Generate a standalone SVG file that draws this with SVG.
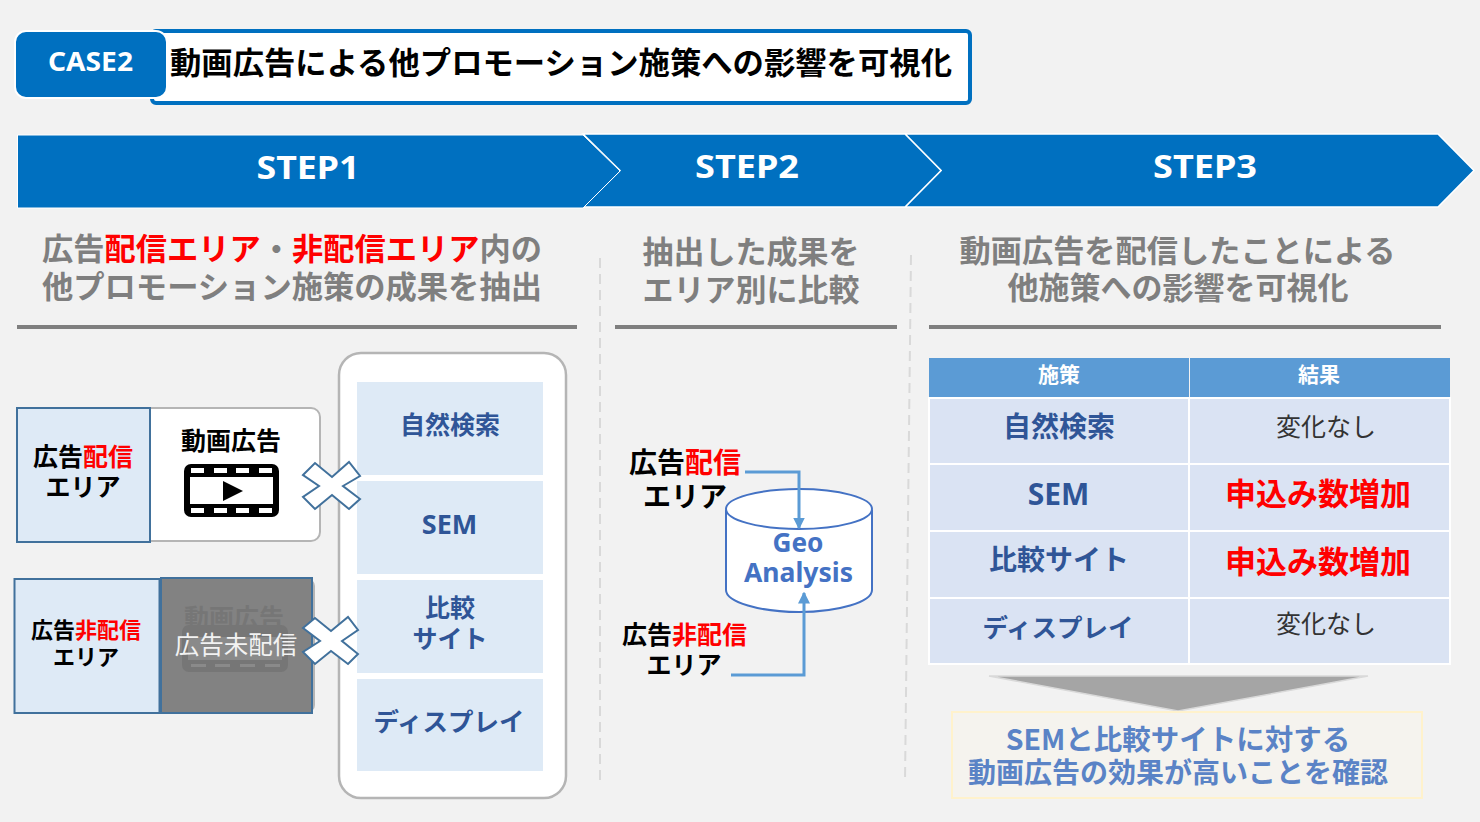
<svg xmlns="http://www.w3.org/2000/svg" width="1480" height="822" viewBox="0 0 1480 822">
<style>
text{font-family:"Noto Sans CJK JP","Noto Sans",sans-serif;font-weight:700;text-anchor:middle}
.lat{font-family:"Noto Sans",sans-serif}
.r{fill:#ff0000}
.k{fill:#000}
.g{fill:#7f7f7f;font-size:31px}
.b{fill:#2f5597}
.cell{fill:#deeaf6}
.tc{fill:#dae3f3;stroke:#fff;stroke-width:2}
.rule{fill:#7f7f7f}
.dash{stroke:#d9d9d9;stroke-width:2;stroke-dasharray:10 6;fill:none}
.x{fill:#fff;stroke:#41719c;stroke-width:2}
.conn{fill:none;stroke:#5b9bd5;stroke-width:3}
.st{font-size:33px;fill:#fff}
</style>
<defs>
<marker id="ah" markerWidth="4" markerHeight="4" refX="3.500" refY="2" orient="auto" markerUnits="strokeWidth"><path d="M0 0L4 2L0 4z" fill="#5b9bd5"/></marker>
<g id="film">
<rect x="0" y="0" width="95" height="53" rx="7" fill="#000"/>
<rect x="6" y="13" width="83" height="27" fill="#fff"/>
<g fill="#fff"><rect x="7" y="4" width="13" height="5"/><rect x="30" y="4" width="13" height="5"/><rect x="52" y="4" width="13" height="5"/><rect x="75" y="4" width="13" height="5"/><rect x="7" y="44" width="13" height="5"/><rect x="30" y="44" width="13" height="5"/><rect x="52" y="44" width="13" height="5"/><rect x="75" y="44" width="13" height="5"/></g>
<path d="M39 17L59 27L39 37z" fill="#000"/>
</g>
</defs>
<rect width="1480" height="822" fill="#f2f2f2"/>

<g id="title">
<rect x="152" y="31" width="818" height="72" rx="4" fill="#fff" stroke="#0070c0" stroke-width="4"/>
<text x="561" y="74" font-size="31" class="k" textLength="782" lengthAdjust="spacingAndGlyphs">動画広告による他プロモーション施策への影響を可視化</text>
</g>
<g id="case">
<rect x="15" y="31" width="152" height="67" rx="11" fill="#0070c0" stroke="#fff" stroke-width="2"/>
<text class="lat" x="90.500" y="71" font-size="27" fill="#fff" textLength="85" lengthAdjust="spacingAndGlyphs">CASE2</text>
</g>

<g id="step3">
<path d="M905 134H1438L1474 170.500L1438 207H905L941 170.500z" fill="#0070c0" stroke="#fff" stroke-width="1.500"/>
<text class="lat st" x="1205" y="178" textLength="104" lengthAdjust="spacingAndGlyphs">STEP3</text>
</g>
<g id="step2">
<path d="M583 134H905L941 170.500L905 207H583L620 170.500z" fill="#0070c0" stroke="#fff" stroke-width="1.500"/>
<text class="lat st" x="747" y="178" textLength="104" lengthAdjust="spacingAndGlyphs">STEP2</text>
</g>
<g id="step1">
<path d="M17.500 135H583L620 171L583 208H17.500z" fill="#0070c0" stroke="#fff" stroke-width="1"/>
<text class="lat st" x="308" y="179" textLength="103" lengthAdjust="spacingAndGlyphs">STEP1</text>
</g>

<g id="heading1">
<text x="292" y="260" class="g" textLength="500" lengthAdjust="spacingAndGlyphs">広告<tspan class="r">配信エリア</tspan>・<tspan class="r">非配信エリア</tspan>内の</text>
<text x="292" y="298" class="g" textLength="500" lengthAdjust="spacingAndGlyphs">他プロモーション施策の成果を抽出</text>
<rect class="rule" x="17" y="325" width="560" height="4"/>
</g>
<g id="heading2">
<text x="751" y="263" class="g">抽出した成果を</text>
<text x="751" y="301" class="g">エリア別に比較</text>
<rect class="rule" x="615" y="325" width="282" height="4"/>
</g>
<g id="heading3">
<text x="1177.500" y="262" class="g" textLength="436" lengthAdjust="spacingAndGlyphs">動画広告を配信したことによる</text>
<text x="1178" y="299" class="g">他施策への影響を可視化</text>
<rect class="rule" x="929" y="325" width="512" height="4"/>
</g>
<g id="dividers">
<path class="dash" d="M600 258V780"/>
<path class="dash" d="M911 255L905 782"/>
</g>

<g id="channels">
<rect x="339" y="353" width="227" height="445" rx="22" fill="#fff" stroke="#b5b5b5" stroke-width="2.500"/>
<rect class="cell" x="357" y="382" width="186" height="93"/>
<rect class="cell" x="357" y="481" width="186" height="93"/>
<rect class="cell" x="357" y="580" width="186" height="93"/>
<rect class="cell" x="357" y="679" width="186" height="92"/>
<text class="b" x="450" y="434" font-size="25">自然検索</text>
<text class="b lat" x="449.500" y="534" font-size="27">SEM</text>
<text class="b" x="450" y="617" font-size="25">比較</text>
<text class="b" x="450" y="648" font-size="25">サイト</text>
<text class="b" x="449" y="731" font-size="25.500">ディスプレイ</text>
</g>

<g id="area-delivered">
<rect x="140" y="408" width="180" height="133" rx="9" fill="#fff" stroke="#b5b5b5" stroke-width="2"/>
<rect x="17" y="408" width="133" height="134" class="cell" stroke="#41719c" stroke-width="2"/>
<text x="83" y="466" font-size="25" class="k">広告<tspan class="r">配信</tspan></text>
<text x="83" y="496" font-size="25" class="k">エリア</text>
<text x="231" y="450" font-size="25" class="k">動画広告</text>
<use href="#film" x="184" y="464"/>
</g>

<g id="area-undelivered">
<rect x="150" y="580" width="164" height="131" rx="6" fill="#fff" stroke="#b5b5b5" stroke-width="2"/>
<rect x="14.500" y="579" width="145" height="134" class="cell" stroke="#41719c" stroke-width="2"/>
<text x="86" y="638" font-size="22" class="k">広告<tspan class="r">非配信</tspan></text>
<text x="86" y="665" font-size="22" class="k">エリア</text>
<rect x="161" y="578" width="151" height="135" fill="#828282" stroke="#41719c" stroke-width="2"/>
<text x="234" y="627" font-size="25" fill="#767676">動画広告</text>
<rect x="182" y="625" width="106" height="47" rx="7" fill="#767676"/>
<rect x="188" y="637" width="94" height="23" fill="#8a8a8a"/>
<g fill="#8a8a8a"><rect x="191" y="664" width="15" height="3"/><rect x="215" y="664" width="15" height="3"/><rect x="240" y="664" width="15" height="3"/><rect x="265" y="664" width="15" height="3"/></g>
<text x="236" y="654" font-size="24.500" fill="#f2f2f2" style="font-weight:400">広告未配信</text>
</g>

<g id="cross1"><path class="x" d="M303 475L315 463L332 477L349 462L360 476L343 486L360 499L349 509L332 495L315 509L303 497L319 486z"/></g>
<g id="cross2"><path class="x" d="M303 628L315 618L331 631L348 617L358 630L342 641L358 654L348 664L331 651L315 664L303 652L320 641z"/></g>

<g id="geo">
<path d="M726 511V590C726 602 760 612 799 612S872 602 872 590V511z" fill="#fff" stroke="#4472c4" stroke-width="2"/>
<ellipse cx="799" cy="509" rx="73" ry="20" fill="#fff" stroke="#4472c4" stroke-width="2"/>
<text class="lat" x="798" y="552" font-size="26" fill="#4472c4" textLength="51" lengthAdjust="spacingAndGlyphs">Geo</text>
<text class="lat" x="798.500" y="582" font-size="26" fill="#4472c4" textLength="109" lengthAdjust="spacingAndGlyphs">Analysis</text>
</g>
<g id="src1">
<text x="685" y="473" font-size="28" class="k">広告<tspan class="r">配信</tspan></text>
<text x="685" y="507" font-size="28" class="k">エリア</text>
</g>
<g id="src2">
<text x="684.500" y="644" font-size="25" class="k">広告<tspan class="r">非配信</tspan></text>
<text x="684" y="674" font-size="25" class="k">エリア</text>
</g>
<g id="connectors">
<path class="conn" d="M745 472H799V528" marker-end="url(#ah)"/>
<path class="conn" d="M731 675H804V593" marker-end="url(#ah)"/>
</g>

<g id="table">
<rect x="929" y="358" width="260" height="39" fill="#5b9bd5"/>
<rect x="1190" y="358" width="260" height="39" fill="#5b9bd5"/>
<rect class="tc" x="929" y="398" width="260" height="66"/><rect class="tc" x="1189" y="398" width="261" height="66"/>
<rect class="tc" x="929" y="464" width="260" height="67"/><rect class="tc" x="1189" y="464" width="261" height="67"/>
<rect class="tc" x="929" y="531" width="260" height="67"/><rect class="tc" x="1189" y="531" width="261" height="67"/>
<rect class="tc" x="929" y="598" width="260" height="66"/><rect class="tc" x="1189" y="598" width="261" height="66"/>
<text x="1059" y="382" font-size="21" fill="#fff">施策</text>
<text x="1319" y="382" font-size="21" fill="#fff">結果</text>
<text class="b" x="1059" y="437" font-size="28">自然検索</text>
<text class="b lat" x="1058.500" y="505" font-size="30">SEM</text>
<text class="b" x="1059" y="570" font-size="28">比較サイト</text>
<text class="b" x="1058" y="637" font-size="25.500">ディスプレイ</text>
<text x="1326" y="436" font-size="25" fill="#333" style="font-weight:400">変化なし</text>
<text class="r" x="1318" y="505" font-size="31">申込み数増加</text>
<text class="r" x="1318" y="573" font-size="31">申込み数増加</text>
<text x="1326" y="633" font-size="25" fill="#333" style="font-weight:400">変化なし</text>
</g>

<g id="down-arrow"><path d="M989 676H1368L1178 711z" fill="#a5a5a5" stroke="#d9d9d9" stroke-width="1.500"/></g>
<g id="conclusion">
<rect x="952" y="712" width="470" height="86" fill="#f5f3ee" stroke="#fff2cc" stroke-width="2"/>
<text x="1178" y="750" font-size="28.500" fill="#5a83c6">SEMと比較サイトに対する</text>
<text x="1178" y="783" font-size="28" fill="#5a83c6">動画広告の効果が高いことを確認</text>
</g>
</svg>
